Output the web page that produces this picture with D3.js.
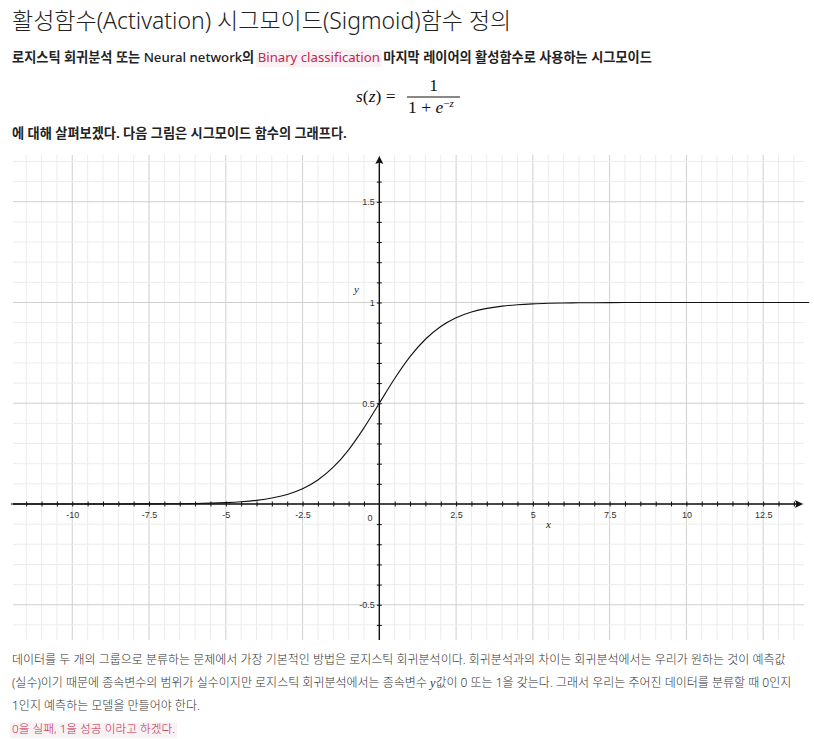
<!DOCTYPE html>
<html><head><meta charset="utf-8">
<script src="https://cdn.jsdelivr.net/npm/d3@7"></script>
<style>body{margin:0;background:#fff}svg{display:block}</style>
</head><body><svg id="c" width="814" height="739"></svg>
<script>
// ---- data ----
const xTickLabels = [-10, -7.5, -5, -2.5, 2.5, 5, 7.5, 10, 12.5];
const yTickLabels = [-0.5, 0.5, 1, 1.5];
const curveX = [-12,-11.5,-11,-10.5,-10,-9.5,-9,-8.5,-8,-7.5,-7,-6.5,-6,-5.5,-5,-4.5,-4,-3.5,-3,-2.5,-2,-1.5,-1,-0.5,0,
  0.5,1,1.5,2,2.5,3,3.5,4,4.5,5,5.5,6,6.5,7,7.5,8,8.5,9,9.5,10,10.5,11,11.5,12,12.5,13,13.5,14];
const curveY = [0.000006,0.00001,0.000017,0.000028,0.000045,0.000075,0.000123,0.000203,0.000335,0.000553,0.000911,0.001501,0.002473,0.00407,0.006693,0.010987,0.017986,0.029312,0.047426,0.075858,0.119203,0.182426,0.268941,0.377541,0.5,
  0.622459,0.731059,0.817574,0.880797,0.924142,0.952574,0.970688,0.982014,0.989013,0.993307,0.99593,0.997527,0.998499,0.999089,0.999447,0.999665,0.999797,0.999877,0.999925,0.999955,0.999972,0.999983,0.99999,0.999994,0.999996,0.999998,0.999999,0.999999];
const titleText = "활성함수(Activation) 시그모이드(Sigmoid)함수 정의";
const introParts = ["로지스틱 회귀분석 또는 ", "Neural network", "의 ", "Binary classification", " 마지막 레이어의 활성함수로 사용하는 시그모이드"];
const afterFormula = "에 대해 살펴보겠다. 다음 그림은 시그모이드 함수의 그래프다.";
const para1 = "데이터를 두 개의 그룹으로 분류하는 문제에서 가장 기본적인 방법은 로지스틱 회귀분석이다. 회귀분석과의 차이는 회귀분석에서는 우리가 원하는 것이 예측값";
const para2a = "(실수)이기 때문에 종속변수의 범위가 실수이지만 로지스틱 회귀분석에서는 종속변수 ";
const para2b = "값이 0 또는 1을 갖는다. 그래서 우리는 주어진 데이터를 분류할 때 0인지";
const para3 = "1인지 예측하는 모델을 만들어야 한다.";
const noteText = "0을 실패, 1을 성공 이라고 하겠다.";

const svg = d3.select("#c");
const SANS = "'Noto Sans','Noto Sans CJK KR',sans-serif";
const SERIF = "'Liberation Serif','DejaVu Serif',serif";
const RED = "#c7254e", PINK = "#f9f2f4";

// ---- text header ----
svg.append("text").attr("x", 12).attr("y", 29).attr("font-family", SANS)
  .attr("font-size", 23).attr("font-weight", 300).attr("fill", "#222").text(titleText);

function runText(parts, x, y, opts) {
  let cx = x;
  parts.forEach(p => {
    let r = null;
    if (p.bg) r = svg.append("rect").attr("fill", PINK);
    const t = svg.append("text").attr("x", cx).attr("y", y)
      .attr("font-family", p.family || opts.family).attr("font-size", opts.size)
      .attr("font-weight", p.weight || opts.weight).attr("font-style", p.italic ? "italic" : null)
      .attr("fill", p.color || opts.color)
      .style("white-space", "pre").text(p.t);
    const w = t.node().getComputedTextLength();
    if (r) r.attr("x", cx - 2).attr("y", y - opts.size + 1).attr("width", w + 4).attr("height", opts.size + 4);
    cx += w;
  });
}
runText([{t: introParts[0]}, {t: introParts[1], weight: 500}, {t: introParts[2]},
         {t: introParts[3], color: RED, bg: true, weight: 400}, {t: introParts[4]}],
  12, 62, {family: SANS, size: 13.2, weight: 700, color: "#222"});

// formula s(z) = 1 / (1 + e^{-z})
const fg = svg.append("g").attr("font-family", SERIF).attr("fill", "#111");
fg.append("text").attr("x", 356).attr("y", 102).attr("font-size", 17.5).html('<tspan font-style="italic">s</tspan>(<tspan font-style="italic">z</tspan>) =');
fg.append("line").attr("x1", 407).attr("x2", 460).attr("y1", 97).attr("y2", 97).attr("stroke", "#111").attr("stroke-width", 1);
fg.append("text").attr("x", 433.5).attr("y", 91).attr("font-size", 17.5).attr("text-anchor", "middle").text("1");
fg.append("text").attr("x", 408).attr("y", 113).attr("font-size", 17.5)
  .html('1 + <tspan font-style="italic">e</tspan><tspan font-size="11" dy="-6">−</tspan><tspan font-size="11" font-style="italic">z</tspan>');

runText([{t: afterFormula}], 12, 138, {family: SANS, size: 13.2, weight: 700, color: "#222"});

// ---- chart ----
const x = d3.scaleLinear().domain([-11.93, 13.83]).range([13, 804]);
const y = d3.scaleLinear().domain([-0.675, 1.732]).range([640, 155]);
const x0 = x(0), y0 = y(0);

const grid = svg.append("g");
d3.range(-23, 28).map(d => d / 2).forEach(v => {
  const major = Math.abs(v / 2.5 - Math.round(v / 2.5)) < 1e-9;
  grid.append("line").attr("x1", x(v)).attr("x2", x(v)).attr("y1", y.range()[1]).attr("y2", y.range()[0])
    .attr("stroke", major ? "#cfcfcf" : "#ececec").attr("stroke-width", 1);
});
d3.range(-6, 18).map(d => d / 10).forEach(v => {
  const major = Math.abs(v / 0.5 - Math.round(v / 0.5)) < 1e-9;
  grid.append("line").attr("y1", y(v)).attr("y2", y(v)).attr("x1", x.range()[0]).attr("x2", x.range()[1])
    .attr("stroke", major ? "#cfcfcf" : "#ececec").attr("stroke-width", 1);
});

// curve
const line = d3.line().x((d, i) => x(curveX[i])).y((d, i) => y(curveY[i])).curve(d3.curveMonotoneX);
svg.append("path").datum(curveY).attr("d", line).attr("fill", "none").attr("stroke", "#111").attr("stroke-width", 1.1);

// axes lines with arrows
const AX = "#111";
svg.append("line").attr("x1", 13).attr("x2", 798).attr("y1", y0).attr("y2", y0).attr("stroke", AX).attr("stroke-width", 1.4);
svg.append("path").attr("d", `M803,${y0} L795,${y0 - 4} L796.5,${y0} L795,${y0 + 4} Z`).attr("fill", AX);
svg.append("line").attr("x1", x0).attr("x2", x0).attr("y1", 640).attr("y2", 162).attr("stroke", AX).attr("stroke-width", 1.4);
svg.append("path").attr("d", `M${x0},156 L${x0 - 4},164 L${x0},162.5 L${x0 + 4},164 Z`).attr("fill", AX);

// x ticks via d3 axis
const xAx = d3.axisBottom(x).tickValues(d3.range(-23, 28).map(d => d / 2).filter(v => v !== 0))
  .tickSize(2.5).tickPadding(5)
  .tickFormat(v => xTickLabels.includes(v) ? String(v) : "");
const gx = svg.append("g").attr("transform", `translate(0,${y0})`).call(xAx);
gx.select(".domain").remove();
gx.selectAll(".tick line").attr("y1", -2.5).attr("stroke", AX).attr("stroke-width", 1);
gx.selectAll(".tick text").attr("font-family", "'Liberation Sans',Arial,sans-serif").attr("font-size", 9).attr("fill", "#333");
svg.append("text").attr("x", 370).attr("y", y0 + 17).attr("font-family", "'Liberation Sans',Arial,sans-serif")
  .attr("font-size", 9).attr("fill", "#333").attr("text-anchor", "middle").text("0");

// y ticks via d3 axis
const yAx = d3.axisLeft(y).tickValues(d3.range(-6, 18).map(d => d / 10).filter(v => Math.abs(v) > 1e-9))
  .tickSize(2.5).tickPadding(2)
  .tickFormat(v => yTickLabels.some(t => Math.abs(t - v) < 1e-9) ? String(+v.toFixed(1)) : "");
const gy = svg.append("g").attr("transform", `translate(${x0},0)`).call(yAx);
gy.select(".domain").remove();
gy.selectAll(".tick line").attr("x1", 2.5).attr("stroke", AX).attr("stroke-width", 1);
gy.selectAll(".tick text").attr("font-family", "'Liberation Sans',Arial,sans-serif").attr("font-size", 9).attr("fill", "#333");

// axis names
svg.append("text").attr("x", 354).attr("y", 293).attr("font-family", SERIF).attr("font-style", "italic").attr("font-size", 11).attr("fill", "#222").text("y");
svg.append("text").attr("x", 546).attr("y", 528).attr("font-family", SERIF).attr("font-style", "italic").attr("font-size", 11).attr("fill", "#222").text("x");

// ---- paragraph ----
const P = {family: SANS, size: 12, weight: 300, color: "#333"};
runText([{t: para1}], 12, 664, P);
runText([{t: para2a}, {t: "y", italic: true, family: SERIF}, {t: para2b}], 12, 687, P);
runText([{t: para3}], 12, 710, P);
runText([{t: noteText, color: RED, bg: true}], 12, 733, {family: SANS, size: 11.7, weight: 300, color: "#333"});
</script></body></html>
